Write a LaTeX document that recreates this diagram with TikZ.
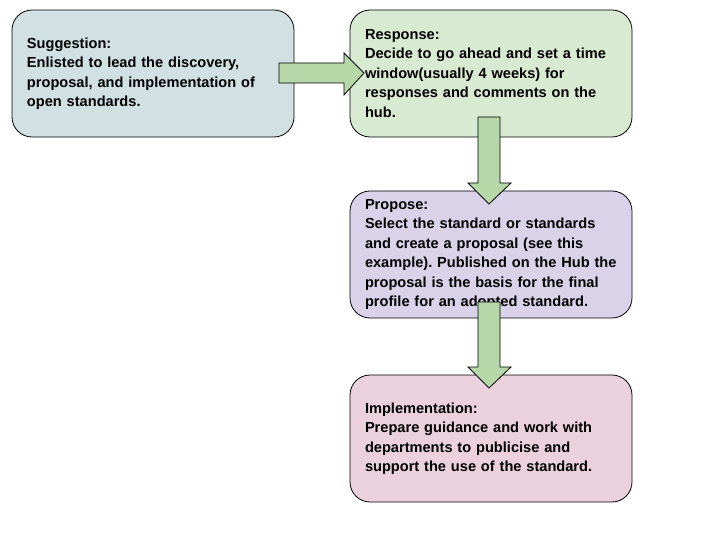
\documentclass[tikz,border=0pt]{standalone}
\usepackage{fontspec}
\setmainfont{Liberation Sans}
\frenchspacing
\begin{document}
\begin{tikzpicture}[x=1pt,y=-1pt,
  stagebox/.style={draw=black, line width=0.8pt, rounded corners=20pt,
    minimum width=282pt, minimum height=127pt, text width=252pt,
    inner xsep=15pt, inner ysep=0pt, align=left,
    font=\fontsize{14.6}{19.5}\selectfont\bfseries\frenchspacing},
  blockarrow/.style={draw=black, line width=0.8pt, fill=arrowgreen}]
\definecolor{cyanbox}{HTML}{D0E0E3}
\definecolor{greenbox}{HTML}{D9EAD3}
\definecolor{purplebox}{HTML}{D9D2E9}
\definecolor{pinkbox}{HTML}{EAD1DC}
\definecolor{arrowgreen}{HTML}{B6D7A8}
\useasboundingbox (0,0) rectangle (720,540);
\fill[white] (0,0) rectangle (720,540);
\node[stagebox, fill=cyanbox] (sugg) at (153,73.5) {Suggestion:\\Enlisted to lead the discovery,\\proposal, and implementation of\\open standards.};
\node[stagebox, fill=greenbox] (resp) at (491,73.5) {Response:\\Decide to go ahead and set a time\\window(usually 4 weeks) for\\responses and comments on the\\hub.};
\node[stagebox, fill=purplebox] (prop) at (491,254.5) {Propose:\\Select the standard or standards\\and create a proposal (see this\\example). Published on the Hub the\\proposal is the basis for the final\\profile for an adopted standard.};
\node[stagebox, fill=pinkbox] (impl) at (491,438.5) {Implementation:\\Prepare guidance and work with\\departments to publicise and\\support the use of the standard.};
% block arrows
\draw[blockarrow] (279,63) -- (344,63) -- (344,53) -- (364,73) -- (344,95) -- (344,83) -- (279,83) -- cycle;
\draw[blockarrow] (478,117) -- (500,117) -- (500,183) -- (511,183) -- (489,204) -- (468,183) -- (478,183) -- cycle;
\draw[blockarrow] (478,302) -- (500,302) -- (500,367) -- (511,367) -- (489,388) -- (468,367) -- (478,367) -- cycle;
\end{tikzpicture}
\end{document}
